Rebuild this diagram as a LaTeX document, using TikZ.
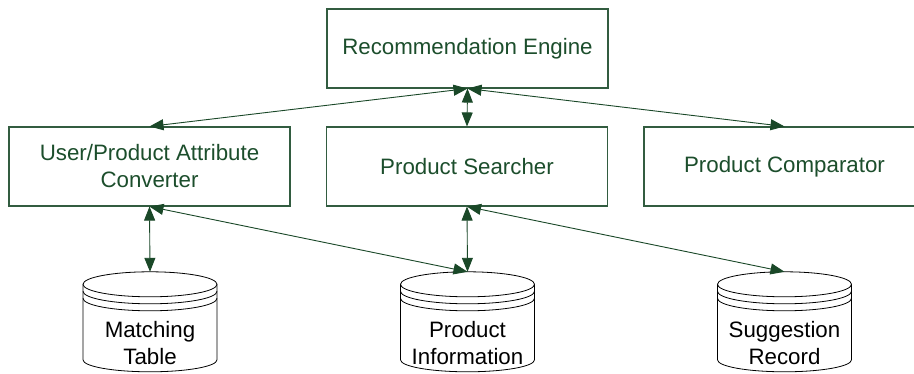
\documentclass[tikz,border=0pt]{standalone}
\usepackage{fontspec}
\setmainfont{Liberation Sans}
\usetikzlibrary{arrows.meta}
\definecolor{boxgreen}{RGB}{50,92,64}
\definecolor{txtgreen}{RGB}{28,78,44}
\definecolor{arrgreen}{RGB}{26,72,40}
\newcommand{\dbcyl}[1]{%
  \draw[line width=0.8pt] ([xshift=-67pt,yshift=-12.5pt]#1.north) -- ++(0pt,-75.5pt)
     arc[start angle=180,end angle=360,x radius=67pt,y radius=12pt]
     -- ([xshift=67pt,yshift=-12.5pt]#1.north);
  \draw[line width=0.8pt] ([yshift=-12.5pt]#1.north) ellipse[x radius=67pt,y radius=12.5pt];
  \draw[line width=0.8pt] ([xshift=-67pt,yshift=-19.5pt]#1.north)
     arc[start angle=180,end angle=360,x radius=67pt,y radius=12.5pt];
  \draw[line width=0.8pt] ([xshift=-67pt,yshift=-26.5pt]#1.north)
     arc[start angle=180,end angle=360,x radius=67pt,y radius=12.5pt];
}
\tikzset{
  box/.style={draw=boxgreen, line width=1.1pt, rectangle, minimum width=281pt,
    minimum height=79pt, inner sep=0pt, align=center, text=txtgreen,
    font=\fontsize{22.3}{27}\selectfont},
  dbtext/.style={rectangle, minimum width=134pt, minimum height=143pt, inner sep=0pt,
    align=center, text=black, font=\fontsize{22.3}{27}\selectfont},
  conn/.style={arrgreen, line width=0.9pt, {Triangle[length=14pt,width=11pt]}-{Triangle[length=14pt,width=11pt]}}
}
\begin{document}
\begin{tikzpicture}[x=1pt,y=-1pt]
\useasboundingbox (0,0) rectangle (914,374);
\clip (0,0) rectangle (914,374);
\fill[white] (0,0) rectangle (914,374);
\node[box] (eng) at (467.5,48.5) {Recommendation Engine};
\node[box] (uac) at (149.5,166.5) {User/Product Attribute\\Converter};
\node[box] (ps)  at (467,166.5) {Product Searcher};
\node[box] (pc)  at (784.5,166.5) {Product Comparator};
\node[dbtext] (mt) at (150,343.5) {Matching\\Table};
\node[dbtext] (pi) at (467.5,343.5) {Product\\Information};
\node[dbtext] (sr) at (784.5,343.5) {Suggestion\\Record};
\dbcyl{mt}
\dbcyl{pi}
\dbcyl{sr}
\draw[conn] (eng.south) -- (uac.north);
\draw[conn] (eng.south) -- (ps.north);
\draw[conn] (eng.south) -- (pc.north);
\draw[conn] (uac.south) -- (mt.north);
\draw[conn] (uac.south) -- (pi.north);
\draw[conn] (ps.south) -- (pi.north);
\draw[conn] (ps.south) -- (sr.north);
\end{tikzpicture}
\end{document}
